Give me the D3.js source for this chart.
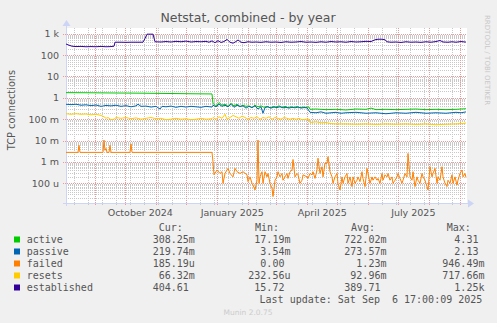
<!DOCTYPE html>
<html>
<head>
<meta charset="utf-8">
<script src="https://cdn.jsdelivr.net/npm/d3@7"></script>
<style>
  html, body { margin: 0; padding: 0; background: #f0f0f0; }
  svg { display: block; }
  text { font-family: "DejaVu Sans", sans-serif; fill: #555; }
  .mono { font-family: "DejaVu Sans Mono", monospace; white-space: pre; }
</style>
</head>
<body>
<script>
// Time window: 400 days ending at the last update
const endDate = new Date(2025, 8, 6, 17, 0, 9);
const startDate = new Date(endDate.getTime() - 400 * 864e5);

// Series: [day offset from start, value]
const active = [[0,1.75],[25,1.72],[50,1.68],[75,1.65],[100,1.6],[125,1.55],[146,1.52],[147,0.55],[150,0.4],[153,0.6],[156,0.45],[159,0.5],[162,0.4],[165,0.55],[168,0.42],[171,0.5],[174,0.38],[177,0.45],[180,0.4],[183,0.42],[186,0.35],[189,0.45],[192,0.38],[195,0.42],[198,0.36],[201,0.4],[204,0.34],[207,0.39],[210,0.37],[213,0.42],[216,0.36],[219,0.4],[222,0.35],[225,0.38],[228,0.36],[231,0.39],[234,0.35],[237,0.37],[240,0.36],[243,0.37],[244,0.29],[250,0.3],[260,0.28],[270,0.29],[280,0.27],[290,0.3],[300,0.29],[305,0.33],[310,0.28],[320,0.29],[330,0.28],[340,0.29],[350,0.3],[360,0.28],[370,0.29],[380,0.28],[390,0.29],[395,0.3],[400,0.30825]];

const passive = [[0,0.5],[5,0.48],[10,0.5],[15,0.45],[20,0.47],[25,0.43],[30,0.46],[35,0.4],[40,0.44],[45,0.42],[50,0.45],[55,0.4],[60,0.43],[65,0.38],[70,0.42],[72,0.5],[75,0.4],[80,0.41],[85,0.37],[90,0.4],[94,0.3],[96,0.4],[100,0.38],[105,0.41],[110,0.36],[115,0.4],[120,0.37],[125,0.4],[130,0.38],[135,0.36],[140,0.4],[146,0.37],[147,0.45],[150,0.38],[153,0.5],[156,0.4],[159,0.45],[162,0.38],[165,0.5],[168,0.36],[171,0.45],[174,0.4],[177,0.42],[180,0.33],[183,0.4],[186,0.35],[189,0.42],[192,0.3],[195,0.38],[197,0.19],[199,0.35],[202,0.38],[205,0.33],[208,0.37],[211,0.35],[214,0.38],[217,0.34],[220,0.36],[223,0.33],[226,0.36],[229,0.34],[232,0.37],[235,0.33],[238,0.35],[241,0.34],[244,0.21],[250,0.2],[255,0.22],[260,0.19],[265,0.2],[270,0.21],[275,0.19],[280,0.2],[290,0.21],[300,0.19],[310,0.2],[320,0.18],[330,0.2],[340,0.19],[350,0.21],[360,0.19],[370,0.2],[380,0.19],[390,0.21],[395,0.2],[400,0.21974]];

const failed = [[0,2.8e-3],[12,2.8e-3],[13,6e-3],[14,2.8e-3],[37,2.8e-3],[38,1.05e-2],[39,3.5e-3],[40,4.3e-3],[41,2.8e-3],[43,2.8e-3],[44,6e-3],[45,2.8e-3],[64,2.8e-3],[65,7e-3],[66,2.8e-3],[146,2.8e-3],[147,1.0e-3],[148,2.5e-4],[151,4.2e-4],[154,2.9e-4],[156,3.5e-4],[157,1.0e-4],[159,2.9e-4],[162,5e-4],[164,2.9e-4],[167,2e-4],[169,5e-4],[171,3.5e-4],[174,2.9e-4],[177,3.5e-4],[181,2.5e-4],[182,1.2e-4],[184,2e-4],[186,1e-4],[187,8.3e-5],[189,4.9e-5],[191,1.4e-4],[192,1.06e-2],[193,1e-4],[194,2e-4],[196,3.5e-4],[197,1e-4],[199,3.5e-4],[201,2e-4],[202,2.9e-4],[204,1e-4],[206,5.8e-5],[207,2.4e-5],[209,1.4e-4],[211,2e-4],[212,3.5e-4],[214,2e-4],[216,2.9e-4],[217,1.4e-4],[219,2e-4],[221,2.9e-4],[222,1.7e-4],[224,3.5e-4],[226,4.2e-4],[227,1.3e-3],[229,2e-4],[231,2.9e-4],[232,2.5e-4],[234,1e-4],[236,1.4e-4],[237,2.5e-4],[241,2e-4],[242,1.7e-4],[244,2.9e-4],[246,2.5e-4],[247,3.5e-4],[249,1.7e-4],[251,4.2e-4],[252,1.5e-3],[254,2.9e-4],[256,6e-4],[257,2e-4],[259,8.6e-4],[261,8.6e-4],[262,1.77e-3],[264,3.5e-4],[266,2e-4],[267,1e-4],[269,2e-4],[271,2.9e-4],[272,1e-4],[274,4.9e-5],[276,2e-4],[277,1e-4],[279,2e-4],[281,2.9e-4],[282,1e-4],[284,2e-4],[286,7e-5],[287,2e-4],[289,1e-4],[291,1.4e-4],[292,2e-4],[294,1.2e-4],[296,3.5e-4],[297,1.7e-4],[299,7e-5],[301,5e-4],[302,2.9e-4],[304,1e-4],[306,2e-4],[307,1.4e-4],[309,2e-4],[311,1.4e-4],[312,1.7e-4],[314,1e-4],[316,2.9e-4],[317,1.4e-4],[319,2.5e-4],[321,2e-4],[322,2.9e-4],[324,1.4e-4],[326,2e-4],[327,1e-4],[329,1.4e-4],[331,2e-4],[332,2.9e-4],[334,1.7e-4],[336,1e-4],[337,1.4e-4],[339,2.9e-4],[341,2e-4],[342,2.5e-3],[344,2e-4],[346,1.4e-4],[347,3.5e-4],[349,7e-5],[351,2e-4],[352,1.4e-4],[354,1e-4],[356,2.9e-4],[357,2e-4],[359,1.4e-4],[361,7e-5],[362,4.9e-5],[364,6e-4],[366,2e-4],[367,2.9e-4],[369,5e-4],[371,1e-4],[372,2e-4],[374,1.4e-4],[376,6e-4],[377,2e-4],[379,1e-4],[381,7e-5],[382,1.4e-4],[384,1e-4],[386,2.5e-4],[387,1e-4],[389,2e-4],[391,8.3e-5],[392,1.4e-4],[394,2.9e-4],[396,4.2e-4],[397,2e-4],[399,2.9e-4],[400,1.8519e-4]];

const resets = [[0,0.18],[5,0.17],[10,0.18],[15,0.17],[20,0.175],[25,0.16],[30,0.17],[35,0.15],[38,0.13],[40,0.11],[42,0.12],[45,0.095],[48,0.1],[50,0.12],[55,0.11],[60,0.12],[65,0.105],[70,0.115],[75,0.1],[80,0.11],[85,0.12],[90,0.105],[95,0.11],[100,0.095],[105,0.1],[110,0.11],[115,0.1],[120,0.105],[125,0.095],[130,0.1],[135,0.11],[140,0.1],[146,0.105],[147,0.12],[150,0.1],[153,0.13],[156,0.11],[159,0.17],[161,0.1],[164,0.12],[167,0.15],[170,0.13],[173,0.11],[176,0.14],[179,0.12],[182,0.1],[185,0.12],[188,0.11],[191,0.13],[194,0.1],[197,0.12],[200,0.11],[203,0.13],[206,0.1],[209,0.12],[212,0.11],[215,0.1],[218,0.12],[221,0.11],[224,0.1],[227,0.11],[230,0.1],[233,0.11],[236,0.095],[240,0.1],[243,0.1],[244,0.07],[250,0.075],[255,0.068],[260,0.07],[265,0.062],[270,0.06],[280,0.06],[290,0.058],[300,0.06],[310,0.057],[320,0.06],[330,0.058],[340,0.06],[350,0.057],[360,0.06],[370,0.055],[380,0.058],[390,0.06],[395,0.062],[400,0.06632]];

const established = [[0,330],[3,290],[6,260],[10,250],[15,255],[20,245],[25,250],[30,245],[35,255],[40,245],[45,250],[48,260],[49,400],[55,400],[60,395],[65,400],[70,400],[77,400],[79,600],[81,950],[87,950],[89,420],[95,410],[100,430],[105,410],[110,440],[115,420],[120,450],[125,410],[130,430],[135,420],[140,440],[143,400],[146,460],[149,380],[152,470],[155,390],[158,430],[161,540],[164,400],[167,360],[170,430],[172,510],[175,400],[178,380],[182,420],[186,400],[190,410],[195,395],[200,420],[205,400],[210,410],[215,390],[220,420],[225,400],[230,410],[235,430],[240,400],[245,410],[250,395],[255,420],[260,400],[265,430],[270,410],[275,420],[280,400],[285,430],[290,410],[295,420],[300,440],[305,430],[309,520],[312,550],[316,550],[319,520],[321,420],[325,400],[330,410],[335,390],[340,420],[345,400],[350,410],[355,395],[360,420],[365,400],[370,430],[374,480],[377,410],[382,400],[386,420],[390,400],[395,430],[400,404.61]];

const seriesNames = ["active", "passive", "failed", "resets", "established"];
const seriesColors = ["#00cc00", "#0066b3", "#ff8000", "#ffcc00", "#330099"];
const seriesData = [active, passive, failed, resets, established];

const statCur = ["308.25m", "219.74m", "185.19u", "66.32m", "404.61"];
const statMin = ["17.19m", "3.54m", "0.00", "232.56u", "15.72"];
const statAvg = ["722.02m", "273.57m", "1.23m", "92.96m", "389.71"];
const statMax = ["4.31", "2.13", "946.49m", "717.66m", "1.25k"];

const yTickValues = [1e3, 1e2, 10, 1, 0.1, 0.01, 1e-3, 1e-4];
const yTickLabels = ["1 k", "100", "10", "1", "100 m", "10 m", "1 m", "100 u"];
const xLabelDates = [new Date(2024, 9, 16), new Date(2025, 0, 16), new Date(2025, 3, 16), new Date(2025, 6, 16)];
const xLabels = ["October 2024", "January 2025", "April 2025", "July 2025"];

const W = 497, H = 323;
const plot = { left: 66, right: 466, top: 28, bottom: 203 };

const svg = d3.select("body").append("svg").attr("width", W).attr("height", H);
svg.append("rect").attr("width", W).attr("height", H).attr("fill", "#f0f0f0");

const x = d3.scaleTime().domain([startDate, endDate]).range([plot.left, plot.right]);
const y = d3.scaleLog().domain([1.2e-5, 1850]).range([plot.bottom, plot.top]);
const dayToDate = d => new Date(startDate.getTime() + d * 864e5);

// Canvas
svg.append("rect")
  .attr("x", plot.left).attr("y", plot.top)
  .attr("width", plot.right - plot.left + 1).attr("height", plot.bottom - plot.top)
  .attr("fill", "#ffffff");

const grid = svg.append("g").attr("shape-rendering", "crispEdges");

// Minor horizontal grid: 2..9 within each decade
const minorY = [];
for (let e = -5; e <= 3; e++) for (let m = 2; m <= 9; m++) {
  const v = m * Math.pow(10, e);
  if (v > y.domain()[0] && v < y.domain()[1]) minorY.push(v);
}
grid.selectAll("line.ymin").data(minorY).enter().append("line")
  .attr("x1", plot.left).attr("x2", plot.right)
  .attr("y1", d => Math.round(y(d)) + 0.5).attr("y2", d => Math.round(y(d)) + 0.5)
  .attr("stroke", "#c8c8c8").attr("stroke-dasharray", "1,1");

// Minor vertical grid: every two weeks
const fortnights = d3.timeDay.every(1).range(new Date(2024, 7, 11), endDate).filter((d, i) => i % 14 === 0);
grid.selectAll("line.xmin").data(fortnights).enter().append("line")
  .attr("x1", d => Math.round(x(d)) + 0.5).attr("x2", d => Math.round(x(d)) + 0.5)
  .attr("y1", plot.top).attr("y2", plot.bottom + 3)
  .attr("stroke", "#c8c8c8").attr("stroke-dasharray", "1,1");

// Major grid: decades and month starts
grid.selectAll("line.ymaj").data(yTickValues).enter().append("line")
  .attr("x1", plot.left - 3).attr("x2", plot.right)
  .attr("y1", d => Math.round(y(d)) + 0.5).attr("y2", d => Math.round(y(d)) + 0.5)
  .attr("stroke", "#eb9a9a").attr("stroke-dasharray", "1,1");

const months = d3.timeMonth.range(startDate, endDate);
grid.selectAll("line.xmaj").data(months).enter().append("line")
  .attr("x1", d => Math.round(x(d)) + 0.5).attr("x2", d => Math.round(x(d)) + 0.5)
  .attr("y1", plot.top).attr("y2", plot.bottom + 3)
  .attr("stroke", "#eb9a9a").attr("stroke-dasharray", "1,1");

// Axes with arrows
const axisColor = "#ccd5f5";
svg.append("line").attr("x1", plot.left - 3).attr("x2", plot.right + 3)
  .attr("y1", plot.bottom + 0.5).attr("y2", plot.bottom + 0.5)
  .attr("stroke", axisColor).attr("shape-rendering", "crispEdges");
svg.append("line").attr("x1", plot.left + 0.5).attr("x2", plot.left + 0.5)
  .attr("y1", plot.bottom + 3).attr("y2", plot.top - 4)
  .attr("stroke", axisColor).attr("shape-rendering", "crispEdges");
svg.append("path")
  .attr("d", `M${plot.right + 2},${plot.bottom - 3.5}L${plot.right + 8},${plot.bottom + 0.5}L${plot.right + 2},${plot.bottom + 4.5}Z`)
  .attr("fill", axisColor);
svg.append("path")
  .attr("d", `M${plot.left - 3.5},${plot.top - 2}L${plot.left + 0.5},${plot.top - 8}L${plot.left + 4.5},${plot.top - 2}Z`)
  .attr("fill", axisColor);

// Y tick labels
svg.selectAll("text.ytick").data(yTickValues).enter().append("text")
  .attr("x", plot.left - 7).attr("y", d => y(d) + 3.5)
  .attr("text-anchor", "end").attr("font-size", 9.5)
  .text((d, i) => yTickLabels[i]);

// X labels
svg.selectAll("text.xtick").data(xLabelDates).enter().append("text")
  .attr("x", d => x(d)).attr("y", 215.5)
  .attr("text-anchor", "middle").attr("font-size", 9.5)
  .text((d, i) => xLabels[i]);

// Series lines
const line = d3.line().x(d => x(dayToDate(d[0]))).y(d => y(d[1]));
const lines = svg.append("g");
seriesData.forEach((s, i) => {
  lines.append("path").attr("d", line(s))
    .attr("fill", "none").attr("stroke", seriesColors[i]).attr("stroke-width", 1);
});

// Titles
svg.append("text").attr("x", 248).attr("y", 22).attr("text-anchor", "middle")
  .attr("font-size", 12.5).text("Netstat, combined - by year");
svg.append("text").attr("transform", "translate(15,110) rotate(-90)")
  .attr("text-anchor", "middle").attr("font-size", 9.8).text("TCP connections");
svg.append("text").attr("transform", "translate(484.5,15) rotate(90)")
  .attr("font-size", 7).style("fill", "#c8c8c8").text("RRDTOOL / TOBI OETIKER");

// Legend
const fmt = s => {
  const m = s.match(/^([0-9.]+)([a-zA-Z]?)$/);
  return m[1].padStart(6, " ") + m[2];
};
const colX = [152.7, 248.3, 344.3, 442.3];
const headers = ["Cur:", "Min:", "Avg:", "Max:"];
const headerX = [158.7, 255, 351, 446.7];
headers.forEach((h, i) => {
  svg.append("text").attr("class", "mono").attr("x", headerX[i]).attr("y", 231)
    .attr("font-size", 10).text(h);
});
const stats = [statCur, statMin, statAvg, statMax];
seriesNames.forEach((n, i) => {
  const yy = 243 + i * 12;
  svg.append("rect").attr("x", 14).attr("y", yy - 6.5).attr("width", 6).attr("height", 6)
    .attr("fill", seriesColors[i]);
  svg.append("text").attr("class", "mono").attr("x", 26.7).attr("y", yy)
    .attr("font-size", 10).text(n);
  stats.forEach((col, j) => {
    svg.append("text").attr("class", "mono").attr("x", colX[j]).attr("y", yy)
      .attr("font-size", 10).text(fmt(col[i]));
  });
});
svg.append("text").attr("class", "mono").attr("x", 482.3).attr("y", 303)
  .attr("text-anchor", "end").attr("font-size", 10)
  .text("Last update: Sat Sep  6 17:00:09 2025");
svg.append("text").attr("x", 248).attr("y", 314.5).attr("text-anchor", "middle")
  .attr("font-size", 7.5).style("fill", "#cccccc").text("Munin 2.0.75");
</script>
</body>
</html>
